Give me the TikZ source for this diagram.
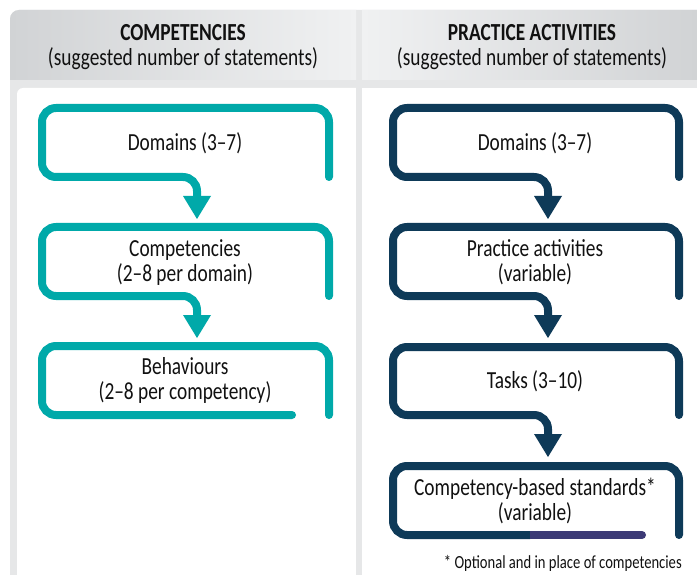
\documentclass[tikz,border=0pt]{standalone}
\usepackage{fontspec}
\setmainfont{Carlito}[FakeStretch=0.79]
\definecolor{cteal}{HTML}{00A9A9}
\definecolor{cnavy}{HTML}{0E3A58}
\definecolor{cpurple}{HTML}{3C3A76}
\definecolor{cframe}{HTML}{E6E7E8}
\definecolor{chdark}{HTML}{D1D3D5}
\definecolor{chlight}{HTML}{F0F1F2}
\definecolor{ctext}{HTML}{111111}
\tikzset{
  flowline/.style={line width=8pt, rounded corners=14pt, line cap=round},
  label/.style={inner sep=0pt, align=center, text=ctext, font=\fontsize{24.5}{25}\selectfont},
  headtext/.style={inner sep=0pt, align=center, text=ctext, font=\fontsize{24.5}{25}\selectfont},
  note/.style={inner sep=0pt, text=ctext, font=\fontsize{18.5}{20}\selectfont},
}
\begin{document}
\begin{tikzpicture}[x=1pt,y=-1pt]
\useasboundingbox (0,0) rectangle (697,575);
\clip (0,0) rectangle (697,575);
\fill[white] (0,0) rectangle (697,575);
% frame
\fill[cframe, rounded corners=9pt] (10,10) rectangle (760,640);
\begin{scope}
  \clip[rounded corners=9pt] (10,10) rectangle (760,640);
  \shade[left color=chdark, right color=chlight] (10,10) rectangle (356,80);
  \shade[left color=chlight, right color=chdark] (362,10) rectangle (697,80);
\end{scope}
\fill[white, rounded corners=6pt] (17,88) rectangle (366,640);
\fill[cframe] (356,80) rectangle (362,640);
\fill[white] (362,88) rectangle (760,640);

% headers
\node[headtext] (h1) at (183,47.5) {\textbf{COMPETENCIES}\\(suggested number of statements)};
\node[headtext] (h2) at (532,47.5) {\textbf{PRACTICE ACTIVITIES}\\(suggested number of statements)};

% left column
\coordinate (la1) at (197,177);
\coordinate (la2) at (197,296);
\draw[flowline, cteal] (329,177) -- (329,108) -- (42,108) -- (42,177) -- (la1) -- ++(0,19);
\fill[cteal] ([xshift=-14pt,yshift=-19pt]la1) -- ([xshift=14pt,yshift=-19pt]la1) -- ([yshift=-42pt]la1) -- cycle;
\draw[flowline, cteal] (329,296) -- (329,227) -- (42,227) -- (42,296) -- (la2) -- ++(0,19);
\fill[cteal] ([xshift=-14pt,yshift=-19pt]la2) -- ([xshift=14pt,yshift=-19pt]la2) -- ([yshift=-42pt]la2) -- cycle;
\draw[flowline, cteal] (329,415) -- (329,346) -- (42,346) -- (42,415) -- (292,415);

\node[label] (l1) at (185,143) {Domains (3–7)};
\node[label] (l2) at (185,262.5) {Competencies\\(2–8 per domain)};
\node[label] (l3) at (185,380.5) {Behaviours\\(2–8 per competency)};

% right column
\coordinate (ra1) at (548,177);
\coordinate (ra2) at (548,296);
\coordinate (ra3) at (548,415);
\draw[flowline, cnavy] (679,177) -- (679,108) -- (393,108) -- (393,177) -- (ra1) -- ++(0,19);
\fill[cnavy] ([xshift=-14pt,yshift=-19pt]ra1) -- ([xshift=14pt,yshift=-19pt]ra1) -- ([yshift=-42pt]ra1) -- cycle;
\draw[flowline, cnavy] (679,296) -- (679,227) -- (393,227) -- (393,296) -- (ra2) -- ++(0,19);
\fill[cnavy] ([xshift=-14pt,yshift=-19pt]ra2) -- ([xshift=14pt,yshift=-19pt]ra2) -- ([yshift=-42pt]ra2) -- cycle;
\draw[flowline, cnavy] (679,415) -- (679,347) -- (393,347) -- (393,415) -- (ra3) -- ++(0,19);
\fill[cnavy] ([xshift=-14pt,yshift=-19pt]ra3) -- ([xshift=14pt,yshift=-19pt]ra3) -- ([yshift=-42pt]ra3) -- cycle;
\coordinate (rb) at (530,535);
\draw[flowline, cnavy] (679,535) -- (679,466) -- (393,466) -- (393,535) -- (rb);
\draw[cpurple, line width=8pt] (rb) -- (642,535);
\fill[cpurple] (642,535) circle (4pt);

\node[label] (r1) at (535,143) {Domains (3–7)};
\node[label] (r2) at (535,262) {Practice activities\\(variable)};
\node[label] (r3) at (535,381) {Tasks (3–10)};
\node[label] (r4) at (535,501) {Competency-based standards*\\(variable)};

\node[note, anchor=east] (fn) at (682,563) {* Optional and in place of competencies};
\end{tikzpicture}
\end{document}
